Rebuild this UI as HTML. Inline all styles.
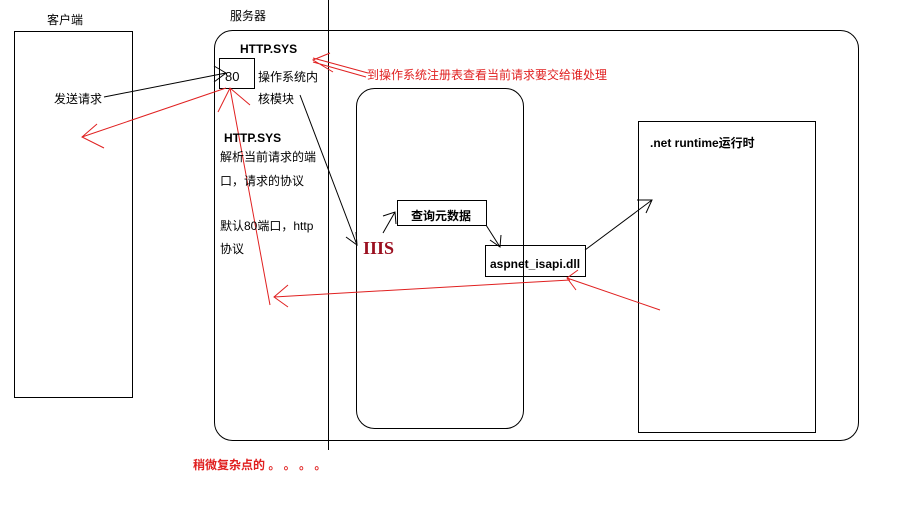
<!DOCTYPE html>
<html><head><meta charset="utf-8"><style>
body{margin:0;background:#fff;width:903px;height:515px;overflow:hidden}
svg text{font-family:"Liberation Sans","Noto Sans CJK SC",sans-serif;font-size:12px}
</style></head><body>
<svg width="903" height="515" viewBox="0 0 903 515">
<g fill="none" stroke="#000" stroke-width="1">
<rect x="14.5" y="31.5" width="118" height="366"/>
<rect x="214.5" y="30.5" width="644" height="410" rx="18"/>
<line x1="328.5" y1="0" x2="328.5" y2="450"/>
<rect x="356.5" y="88.5" width="167" height="340" rx="18"/>
<rect x="638.5" y="121.5" width="177" height="311"/>
<rect x="219.5" y="58.5" width="35" height="30"/>
<rect x="397.5" y="200.5" width="89" height="25"/>
<rect x="485.5" y="245.5" width="100" height="31"/>
<path d="M104 97 L226 73 M214 66 L226 73 L214 82"/>
<path d="M300 95 L357 245 M346 237 L357 245 L356 232"/>
<path d="M383 233 L395 212 M383 216 L395 212 L396 224"/>
<path d="M486 225 L500 247 M490 240 L500 247 L501 235"/>
<path d="M585 250 L652 200 M637 200 L652 200 L646 213"/>
</g>
<g fill="none" stroke="#e02020" stroke-width="1">
<path d="M226 88 L82 137 M97 124 L82 137 L104 148"/>
<path d="M270 305 L230 88 M218 112 L230 88 L250 105"/>
<path d="M570 280 L274 297 M288 285 L274 297 L288 307"/>
<path d="M660 310 L567 278 M578 270 L567 278 L576 290"/>
<path d="M313 58 L368 73 M313 62 L366 77 M333 72 L313 60 L330 53"/>
</g>
<text x="47" y="24">客户端</text>
<text x="230" y="20">服务器</text>
<text x="54" y="103">发送请求</text>
<text x="225" y="81" style="font-size:13px">80</text>
<text x="258" y="81">操作系统内</text>
<text x="258" y="103">核模块</text>
<text x="240" y="53" font-weight="bold">HTTP.SYS</text>
<text x="224" y="142" font-weight="bold">HTTP.SYS</text>
<text x="220" y="161">解析当前请求的端</text>
<text x="220" y="185">口，请求的协议</text>
<text x="220" y="230">默认80端口，http</text>
<text x="220" y="253">协议</text>
<text x="367" y="79" fill="#e02020">到操作系统注册表查看当前请求要交给谁处理</text>
<text x="411" y="220" font-weight="bold">查询元数据</text>
<text x="490" y="268" font-weight="bold">aspnet_isapi.dll</text>
<text x="363" y="254" fill="#9b1020" font-weight="bold" style="font-size:18px;font-family:'Liberation Serif',serif">IIIS</text>
<text x="650" y="147" font-weight="bold">.net runtime运行时</text>
<text x="193" y="469" fill="#e02020" font-weight="bold">稍微复杂点的 。 。 。 。</text>
</svg>
</body></html>
